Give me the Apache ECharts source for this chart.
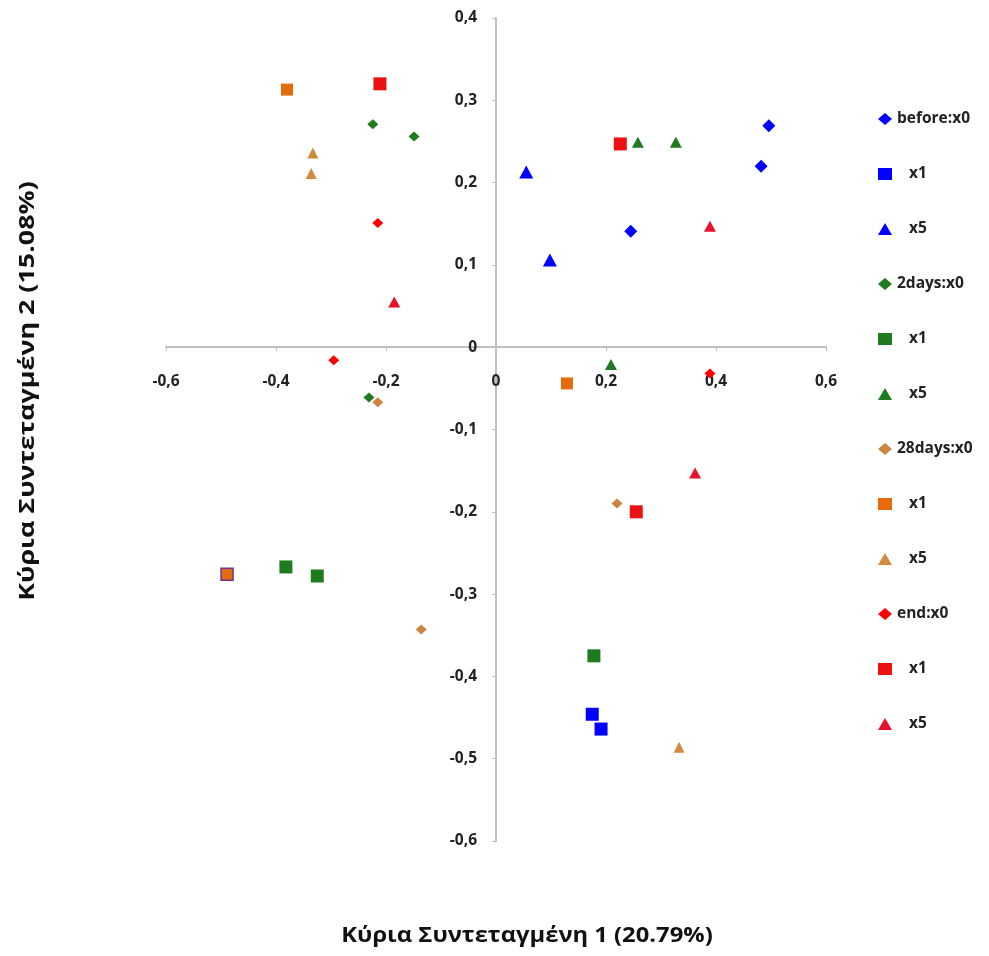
<!DOCTYPE html>
<html><head><meta charset="utf-8">
<script src="https://cdn.jsdelivr.net/npm/echarts@6/dist/echarts.min.js"></script>
<style>html,body{margin:0;padding:0;background:#fff}#c{width:989px;height:956px}</style>
</head><body><div id="c"></div>
<script>
// Series data: [x, y]
const beforeX0 = [[0.496, 0.269], [0.482, 0.220], [0.245, 0.141]];
const beforeX1 = [[0.175, -0.446], [0.191, -0.464]];
const beforeX5 = [[0.055, 0.213], [0.098, 0.106]];
const days2X0 = [[-0.224, 0.271], [-0.149, 0.256], [-0.231, -0.061]];
const days2X1 = [[-0.382, -0.267], [-0.325, -0.278], [0.178, -0.375]];
const days2X5 = [[0.258, 0.249], [0.327, 0.249], [0.209, -0.021]];
const days28X0 = [[-0.215, -0.067], [-0.136, -0.343], [0.220, -0.190]];
const days28X1 = [[-0.380, 0.313], [-0.489, -0.276], [0.129, -0.044]];
const days28X5 = [[-0.333, 0.236], [-0.336, 0.211], [0.333, -0.486]];
const endX0 = [[-0.215, 0.151], [-0.295, -0.016], [0.389, -0.032]];
const endX1 = [[-0.211, 0.320], [0.226, 0.247], [0.255, -0.200]];
const endX5 = [[-0.185, 0.055], [0.389, 0.147], [0.362, -0.153]];

const seriesNames = ['before:x0','before:x1','before:x5','2days:x0','2days:x1','2days:x5','28days:x0','28days:x1','28days:x5','end:x0','end:x1','end:x5'];
const legendLabels = ['before:x0','x1','x5','2days:x0','x1','x5','28days:x0','x1','x5','end:x0','x1','x5'];
const xTicks = [-0.6, -0.4, -0.2, 0, 0.2, 0.4, 0.6];
const yTicks = [-0.6, -0.5, -0.4, -0.3, -0.2, -0.1, 0, 0.1, 0.2, 0.3, 0.4];
const xTitle = 'Κύρια Συντεταγμένη 1 (20.79%)';
const yTitle = 'Κύρια Συντεταγμένη 2 (15.08%)';

const datasets = [beforeX0, beforeX1, beforeX5, days2X0, days2X1, days2X5, days28X0, days28X1, days28X5, endX0, endX1, endX5];
const colors = ['#0000ff','#0000ff','#0000ff','#1e7b1e','#1e7b1e','#1e7b1e','#cc8540','#e46c0a','#d48a3c','#ff0000','#ee1111','#e8102a'];
const symbols = ['diamond','rect','triangle','diamond','rect','triangle','diamond','rect','triangle','diamond','rect','triangle'];
const sizes = [[13,13],[13,13],[14,13],[11,10],[13,13],[12,11],[11,10],[12,12],[11,11],[11,10],[13,13],[12,11]];

const fmt = v => String(Math.round(v*10)/10).replace('.', ',');
const FONT = '"Open Sans", "DejaVu Sans", sans-serif';

const series = datasets.map((d, i) => ({
  name: seriesNames[i],
  type: 'scatter',
  symbol: symbols[i],
  symbolSize: sizes[i],
  itemStyle: { color: colors[i], opacity: 1 },
  data: d.map((p, j) => (i === 7 && j === 1) ? { value: p, itemStyle: { borderColor: '#7030a0', borderWidth: 1.5 } } : p),
  z: 3
}));

const GL = 166, GT = 18, GW = 660, GH = 823;
const xMin = -0.6, xMax = 0.6, yMin = -0.6, yMax = 0.4;
// offsets that place each axis (line, ticks, labels) at the other axis's zero
const xOffset = -GH * (0 - yMin) / (yMax - yMin);
const yOffset = -GW * (0 - xMin) / (xMax - xMin);

const chart = echarts.init(document.getElementById('c'), null, { renderer: 'canvas' });
chart.setOption({
  animation: false,
  backgroundColor: '#ffffff',
  textStyle: { fontFamily: FONT },
  grid: { left: GL, top: GT, width: GW, height: GH, containLabel: false },
  xAxis: {
    type: 'value', min: xMin, max: xMax, interval: 0.2, position: 'bottom', offset: xOffset,
    axisLine: { onZero: false, lineStyle: { color: '#c0c0c0', width: 2 } },
    axisTick: { show: true, length: 4, lineStyle: { color: '#c0c0c0' } },
    splitLine: { show: false },
    axisLabel: { margin: 26, fontSize: 15.5, fontWeight: 'bold', color: '#222', fontFamily: FONT, formatter: fmt }
  },
  yAxis: {
    type: 'value', min: yMin, max: yMax, interval: 0.1, position: 'left', offset: yOffset,
    axisLine: { onZero: false, lineStyle: { color: '#c0c0c0', width: 2 } },
    axisTick: { show: true, length: 4, lineStyle: { color: '#c0c0c0' } },
    splitLine: { show: false },
    axisLabel: { margin: 19, fontSize: 15.5, fontWeight: 'bold', color: '#222', fontFamily: FONT, formatter: fmt }
  },
  legend: {
    orient: 'vertical', left: 873, top: 106,
    itemWidth: 14, itemHeight: 12, itemGap: 39,
    data: seriesNames.map((n, i) => ({ name: n, icon: symbols[i] })),
    formatter: name => { const i = seriesNames.indexOf(name); return (i % 3 === 0) ? legendLabels[i] : '   ' + legendLabels[i]; },
    textStyle: { fontSize: 15.5, lineHeight: 16, fontWeight: 'bold', color: '#222', fontFamily: FONT },
    selectedMode: false
  },
  graphic: [
    { type: 'text', x: 527, y: 936, scaleX: 1.08, style: { text: xTitle, fontSize: 22, fontWeight: 'bold', fill: '#111', fontFamily: FONT, align: 'center', verticalAlign: 'middle' } },
    { type: 'text', x: 28, y: 391, rotation: Math.PI/2, scaleX: 1.22, style: { text: yTitle, fontSize: 22, fontWeight: 'bold', fill: '#111', fontFamily: FONT, align: 'center', verticalAlign: 'middle' } }
  ],
  series: series
});
</script></body></html>
